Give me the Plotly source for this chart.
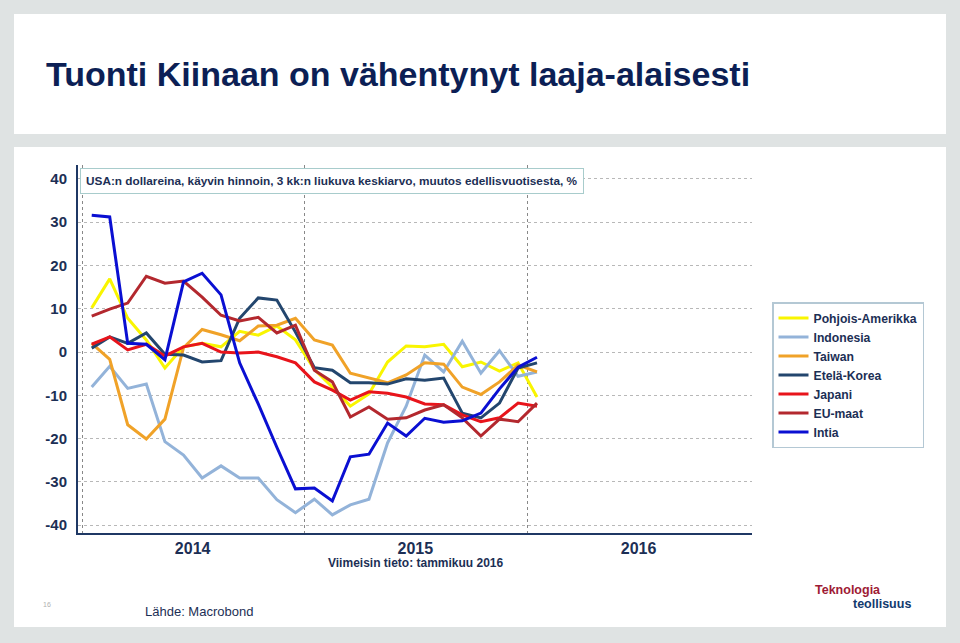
import plotly.graph_objects as go

# ---------------- data ----------------
months = ["2014-01", "2014-02", "2014-03", "2014-04", "2014-05", "2014-06",
          "2014-07", "2014-08", "2014-09", "2014-10", "2014-11", "2014-12",
          "2015-01", "2015-02", "2015-03", "2015-04", "2015-05", "2015-06",
          "2015-07", "2015-08", "2015-09", "2015-10", "2015-11", "2015-12",
          "2016-01"]

pohjois_amerikka = [10.2, 16.9, 7.8, 2.8, -3.7, 1.2, 2.0, 1.2, 4.8, 3.9, 6.0, 2.8,
                    -4.0, -8.1, -12.5, -9.7, -2.3, 1.4, 1.2, 1.8, -3.4, -2.3, -4.4, -2.5, -10.4]
indonesia = [-8.1, -3.3, -8.4, -7.4, -20.7, -23.8, -29.1, -26.3, -29.1, -29.1, -34.1, -37.1,
             -34.0, -37.6, -35.3, -34.0, -21.0, -12.5, -0.7, -4.6, 2.5, -4.9, 0.3, -5.6, -4.6]
taiwan = [2.0, -1.7, -16.8, -20.1, -15.5, 1.0, 5.2, 4.0, 2.6, 6.0, 6.2, 7.8,
          2.8, 1.6, -4.9, -6.0, -7.1, -5.3, -2.5, -2.8, -8.1, -9.8, -6.9, -3.0, -4.6]
etela_korea = [0.9, 3.5, 2.0, 4.4, -0.5, -0.7, -2.3, -2.0, 7.8, 12.5, 12.0, 4.6,
               -3.6, -4.2, -7.1, -7.1, -7.4, -6.2, -6.5, -6.0, -14.1, -15.2, -11.8, -3.7, -2.5]
japani = [1.8, 3.5, 0.5, 1.8, -0.9, 1.2, 2.0, 0.0, -0.2, 0.0, -1.1, -2.5,
          -6.9, -8.8, -11.1, -9.2, -9.5, -10.4, -12.0, -12.2, -14.5, -16.1, -15.2, -11.8, -12.5]
eu_maat = [8.3, 9.9, 11.3, 17.5, 15.9, 16.4, 12.7, 8.5, 7.2, 8.0, 4.4, 6.2,
           -4.2, -6.9, -15.0, -12.7, -15.5, -15.2, -13.4, -12.2, -15.2, -19.4, -15.5, -16.1, -11.8]
intia = [31.6, 31.2, 2.0, 1.8, -1.8, 16.2, 18.2, 13.2, -2.5, -12.0, -22.0, -31.6,
         -31.4, -34.4, -24.2, -23.6, -16.4, -19.4, -15.3, -16.2, -15.9, -14.1, -8.5, -3.5, -1.2]

series_names = ["Pohjois-Amerikka", "Indonesia", "Taiwan", "Etelä-Korea", "Japani", "EU-maat", "Intia"]
series_values = [pohjois_amerikka, indonesia, taiwan, etela_korea, japani, eu_maat, intia]
series_colors = ["#f9f500", "#93b3d9", "#f0a228", "#23466e", "#e8141b", "#b3282e", "#0a0fd2"]

x_tickvals = ["2014-07-01", "2015-07-01", "2016-07-01"]
x_ticktext = ["2014", "2015", "2016"]
year_lines = ["2014-01-01", "2015-01-01", "2016-01-01"]
y_tickvals = [-40, -30, -20, -10, 0, 10, 20, 30, 40]
y_ticktext = ["-40", "-30", "-20", "-10", "0", "10", "20", "30", "40"]

title_text = "Tuonti Kiinaan on vähentynyt laaja-alaisesti"
subtitle_text = "USA:n dollareina, käyvin hinnoin, 3 kk:n liukuva keskiarvo, muutos edellisvuotisesta, %"
latest_text = "Viimeisin tieto: tammikuu 2016"
source_text = "Lähde: Macrobond"

# ---------------- layout helpers ----------------
W, H = 960, 643
L, R, T, B = 78, 752, 165, 533
PW, PH = R - L, B - T


def px2x(px):
    return (px - L) / PW


def py2y(py):
    return (B - py) / PH


FONT = "Liberation Sans, Arial, sans-serif"
NAVY = "#1c2f55"

fig = go.Figure()
for name, vals, col in zip(series_names, series_values, series_colors):
    fig.add_trace(go.Scatter(
        x=months, y=vals, name=name, mode="lines",
        xperiod="M1", xperiodalignment="middle",
        line=dict(color=col, width=3),
    ))

shapes = [
    dict(type="rect", xref="paper", yref="paper", layer="below",
         x0=px2x(14), x1=px2x(946), y0=py2y(134), y1=py2y(14),
         fillcolor="white", line=dict(width=0)),
    dict(type="rect", xref="paper", yref="paper", layer="below",
         x0=px2x(14), x1=px2x(946), y0=py2y(627), y1=py2y(147),
         fillcolor="white", line=dict(width=0)),
]

annotations = [
    dict(text=subtitle_text, xref="paper", yref="paper", x=px2x(80), y=py2y(168),
         xanchor="left", yanchor="top", showarrow=False,
         font=dict(family=FONT, size=11.8, color=NAVY, weight="bold"),
         bgcolor="white", bordercolor="#a8cccc", borderwidth=1, borderpad=5),
    dict(text=latest_text, xref="paper", yref="paper", x=px2x(415), y=py2y(563),
         xanchor="center", yanchor="middle", showarrow=False,
         font=dict(family=FONT, size=12, color=NAVY, weight="bold")),
    dict(text=source_text, xref="paper", yref="paper", x=px2x(143), y=py2y(611),
         xanchor="left", yanchor="middle", showarrow=False,
         font=dict(family=FONT, size=13, color=NAVY)),
    dict(text="16", xref="paper", yref="paper", x=px2x(47), y=py2y(604),
         xanchor="center", yanchor="middle", showarrow=False,
         font=dict(family=FONT, size=7, color="#b0b0b0")),
    dict(text="Teknologia", xref="paper", yref="paper", x=px2x(813), y=py2y(590),
         xanchor="left", yanchor="middle", showarrow=False,
         font=dict(family=FONT, size=12.5, color="#9e1b34", weight="bold")),
    dict(text="teollisuus", xref="paper", yref="paper", x=px2x(851), y=py2y(604),
         xanchor="left", yanchor="middle", showarrow=False,
         font=dict(family=FONT, size=12.5, color="#123a6e", weight="bold")),
]

fig.update_layout(
    width=W, height=H,
    margin=dict(l=L, r=W - R, t=T, b=H - B, pad=0),
    paper_bgcolor="#dfe3e3",
    plot_bgcolor="rgba(0,0,0,0)",
    title=dict(text=title_text, xref="container", yref="container",
               x=46 / W, xanchor="left", y=1 - 74 / H, yanchor="middle",
               font=dict(family=FONT, size=34, color="#0c1f55", weight="bold")),
    shapes=shapes,
    annotations=annotations,
    showlegend=True,
    legend=dict(x=px2x(772), y=py2y(302), xanchor="left", yanchor="top",
                bgcolor="white", bordercolor="#b4c8d4", borderwidth=1.5,
                font=dict(family=FONT, size=12.2, color=NAVY, weight="bold"),
                itemwidth=30, tracegroupgap=0),
    xaxis=dict(type="date", range=["2013-12-25", "2017-01-03"],
               tickvals=x_tickvals, ticktext=x_ticktext, ticks="",
               showgrid=False, zeroline=False,
               showline=True, linecolor="#1f3864", linewidth=2,
               tickfont=dict(family=FONT, size=16, color=NAVY, weight="bold"),
               minor=dict(tickvals=year_lines, showgrid=True, gridcolor="#888888",
                          griddash="dot", gridwidth=1.2, ticks="")),
    yaxis=dict(range=[-41.8, 43.2], tickvals=y_tickvals, ticktext=y_ticktext,
               showgrid=True, gridcolor="#b8b8b8", griddash="dot", gridwidth=1.2,
               zeroline=False, showline=True, linecolor="#1f3864", linewidth=2,
               ticks="outside", ticklen=6, tickcolor="rgba(0,0,0,0)",
               tickfont=dict(family=FONT, size=15, color=NAVY, weight="bold")),
)

fig.write_html("out.html", config={"displayModeBar": False},
               post_script="document.body.style.margin='0';")
